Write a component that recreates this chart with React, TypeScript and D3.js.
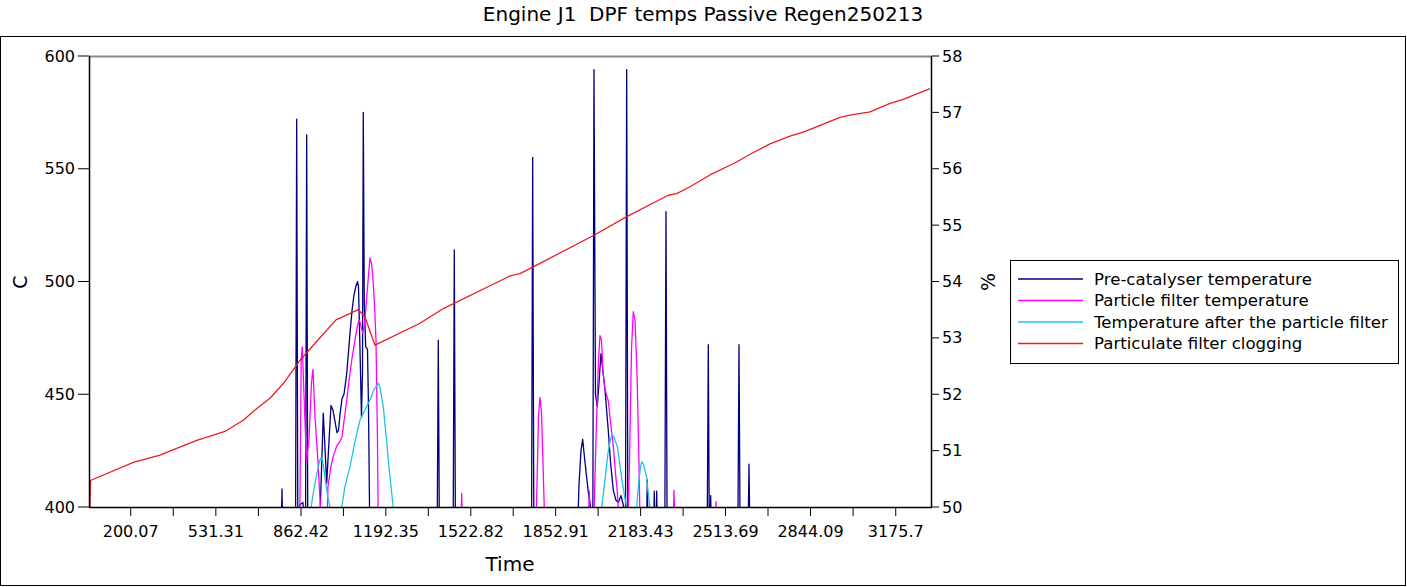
import React from "react"
import * as d3 from "d3"

// Time (s) / value pairs
const preCatalyserTemp: [number, number][] = [
  [38, 380],
  [784, 380], [788.5, 408], [793, 380],
  [841, 380], [845.7, 572], [850, 392], [858, 401], [870, 402], [880, 385], [884.6, 565], [889, 380],
  [930, 380], [936.3, 395], [949.1, 441.6], [962.4, 410.6], [979.1, 445], [986.9, 443], [994.6, 438],
  [1002.4, 433], [1008.3, 434], [1014.1, 441], [1021.9, 448], [1029.7, 450], [1040.2, 459], [1045.2, 466],
  [1053, 477], [1060.8, 487], [1068.5, 494], [1076.3, 498], [1082.2, 500], [1086, 498], [1091.9, 470],
  [1097.7, 440], [1101.6, 460], [1104.7, 575], [1108.6, 490], [1114, 471], [1121.1, 470], [1124.9, 445],
  [1130.8, 380],
  [1391.7, 380], [1396.4, 474], [1401.1, 380],
  [1454, 380], [1458.7, 514], [1463.4, 380],
  [1758.9, 380], [1763.6, 555], [1768.3, 380],
  [1935.9, 380], [1943.7, 410], [1951.4, 425], [1958, 430], [1965.1, 422], [1973.6, 413], [1980.6, 406],
  [1986.4, 402], [1997.5, 390], [2002, 594], [2007.8, 450], [2014.8, 444.5], [2021.5, 455], [2029.2, 468],
  [2037, 460], [2044.8, 452], [2057.6, 434], [2066.2, 420], [2077.1, 407.5], [2087.6, 403], [2096.6, 402],
  [2107, 405], [2116, 401], [2124.5, 390], [2129.2, 594], [2134, 380],
  [2205, 380], [2209.3, 412], [2213.5, 380],
  [2232.5, 380], [2236.5, 407], [2240.5, 380],
  [2242, 380], [2245.9, 407], [2250, 380],
  [2277.3, 380], [2282, 531], [2286.7, 380],
  [2442, 380], [2446.6, 472], [2451, 380], [2452, 385], [2455.9, 405], [2460, 380],
  [2561.3, 380], [2566, 472], [2570.7, 380],
  [2600.5, 380], [2604.9, 419], [2609.3, 380],
  [3317, 380],
]

const particleFilterTemp: [number, number][] = [
  [38, 380],
  [856.6, 380], [863.2, 465], [867.5, 471], [874.1, 450], [883.8, 420], [893.5, 430], [903.2, 455],
  [909.1, 461], [916.9, 440], [928.5, 420], [940.2, 395], [946, 380],
  [959.7, 380], [967.4, 409], [979.1, 418], [986.9, 422], [1001.3, 427], [1014.1, 429], [1021.9, 431],
  [1029.7, 438], [1040.2, 447], [1049.1, 456], [1059.6, 465], [1072.4, 474], [1081.4, 480], [1088, 483],
  [1091.9, 482], [1102.4, 477], [1109.4, 481], [1115.2, 489], [1123, 500], [1130.8, 510.5], [1136.6, 508],
  [1141.3, 503], [1148.3, 490], [1154.1, 474], [1159.9, 430], [1163.8, 380],
  [1483.5, 380], [1487.5, 406], [1491.4, 380],
  [1774.5, 380], [1780.3, 410], [1786.1, 440], [1792, 448.6], [1797.8, 442], [1803.6, 420], [1813.4, 380],
  [1976.7, 380], [1983.7, 407], [1990.3, 380],
  [1998.1, 380], [2009.8, 430], [2019.5, 465], [2025.3, 476], [2031.2, 474], [2037, 460], [2044.8, 452],
  [2050.6, 450], [2057.6, 447], [2066.2, 438], [2077.1, 427], [2085.6, 415], [2092.6, 407], [2099.2, 395],
  [2105.1, 380],
  [2130.4, 380], [2140.1, 420], [2147.9, 470], [2154.9, 486.6], [2161.5, 483], [2169.2, 460], [2177, 420],
  [2182.9, 380],
  [2307.3, 380], [2313.2, 407.5], [2319, 380],
  [2473.4, 380], [2476.5, 402.4], [2479.6, 380],
  [3317, 380],
]

const afterFilterTemp: [number, number][] = [
  [38, 380],
  [897.4, 390], [903.2, 401], [913, 408], [924.6, 415], [936.3, 421], [942.9, 422], [949.9, 418],
  [959.7, 410], [967.4, 404], [975.2, 400], [979.1, 390],
  [1016, 390], [1020.7, 400], [1033.5, 409], [1053, 418], [1072.4, 429], [1091.9, 438.6], [1111.3, 443],
  [1130.8, 447.5], [1146.3, 452], [1163.1, 455], [1169.7, 453], [1182.5, 444.5], [1193, 432], [1202, 421],
  [1212.5, 409], [1221.4, 400], [1226.1, 390],
  [2027.3, 390], [2032, 400], [2044.8, 412], [2056.5, 424], [2066.2, 430], [2073.2, 432], [2079.8, 431],
  [2085.6, 429], [2092.6, 427], [2101.2, 420], [2110.9, 412], [2120.6, 405], [2129.2, 400], [2134.2, 390],
  [2163.4, 390], [2168.1, 400], [2175.1, 410], [2180.9, 416], [2187.5, 420], [2194.5, 419], [2200.4, 416],
  [2207, 413], [2212, 407], [2219.8, 400], [2223.7, 390],
  [3317, 380],
]

const filterClogging: [number, number][] = [
  [41.7, 50.0], [43.7, 50.47], [210.2, 50.79], [314, 50.92], [379, 51.04], [456.8, 51.18], [566.8, 51.34],
  [638, 51.54], [683.5, 51.72], [741.8, 51.93], [793.6, 52.19], [858.5, 52.6], [910.2, 52.87],
  [998.5, 53.32], [1085.3, 53.5], [1111.3, 53.37], [1150.2, 52.87], [1325.2, 53.26], [1415.9, 53.52],
  [1649.2, 54.04], [1675.3, 54.1], [1714.2, 54.14], [1765.9, 54.26], [2002, 54.82], [2129.2, 55.15],
  [2291, 55.53], [2323.7, 55.56], [2375.4, 55.68], [2453.2, 55.89], [2557.1, 56.12], [2602.1, 56.24],
  [2686.5, 56.44], [2764.3, 56.58], [2816.1, 56.65], [2893.8, 56.79], [2958.8, 56.91], [2997.7, 56.95],
  [3075.5, 57.01], [3153.3, 57.16], [3205, 57.23], [3308.8, 57.42],
]

const xTicks = [200.07, 531.31, 862.42, 1192.35, 1522.82, 1852.91, 2183.43, 2513.69, 2844.09, 3175.7]
const xTickLabels = ["200.07", "531.31", "862.42", "1192.35", "1522.82", "1852.91", "2183.43", "2513.69", "2844.09", "3175.7"]
const leftTicks = [400, 450, 500, 550, 600]
const rightTicks = [50, 51, 52, 53, 54, 55, 56, 57, 58]

const seriesNames = [
  "Pre-catalyser temperature",
  "Particle filter temperature",
  "Temperature after the particle filter",
  "Particulate filter clogging",
]
const seriesColors = ["#000080", "#ff00ff", "#1ec0ea", "#ea1c24"]

const W = 1407
const H = 587
const P = { left: 89, top: 56, right: 932, bottom: 507 }
const FONT = "DejaVu Sans, sans-serif"

export default function App() {
  const x = d3.scaleLinear().domain([37.9, 3316.7]).range([P.left, P.right])
  const yL = d3.scaleLinear().domain([400, 600]).range([P.bottom, P.top])
  const yR = d3.scaleLinear().domain([50, 58]).range([P.bottom, P.top])

  const lineL = d3.line<[number, number]>().x((d) => x(d[0])).y((d) => yL(d[1]))
  const lineR = d3.line<[number, number]>().x((d) => x(d[0])).y((d) => yR(d[1]))

  const minorTicks = xTicks.slice(1).map((v, i) => (v + xTicks[i]) / 2)
  const temps = [preCatalyserTemp, particleFilterTemp, afterFilterTemp]

  return (
    <div style={{ position: "absolute", left: 0, top: 0 }}>
      <svg width={W} height={H} style={{ display: "block", background: "#fff" }} fontFamily={FONT}>
        <defs>
          <clipPath id="plot-clip">
            <rect x={P.left} y={P.top - 1} width={P.right - P.left} height={P.bottom - P.top + 1} />
          </clipPath>
        </defs>
        <rect x={0} y={0} width={W} height={H} fill="#fff" />
        <rect x={0.5} y={36.5} width={1405} height={549} fill="none" stroke="#000" />

        <text x={703} y={21} textAnchor="middle" fontSize={20} style={{ whiteSpace: "pre" }}>
          Engine J1  DPF temps Passive Regen250213
        </text>

        {/* plot frame */}
        <line x1={P.left} x2={P.right} y1={P.top + 0.5} y2={P.top + 0.5} stroke="#888" strokeWidth={2} />

        <g clipPath="url(#plot-clip)" fill="none" strokeLinejoin="round">
          {temps.map((s, i) => (
            <path key={i} d={lineL(s) ?? ""} stroke={seriesColors[i]} strokeWidth={1.3} />
          ))}
          <path d={lineR(filterClogging) ?? ""} stroke={seriesColors[3]} strokeWidth={1.3} />
        </g>

        {/* left axis */}
        <line x1={P.left + 0.5} x2={P.left + 0.5} y1={P.top} y2={P.bottom} stroke="#000" strokeWidth={1.5} />
        {leftTicks.map((v) => (
          <g key={v} transform={`translate(0,${yL(v)})`}>
            <line x1={P.left - 11} x2={P.left} stroke="#000" />
            <text x={P.left - 14} dy="0.35em" textAnchor="end" fontSize={16}>
              {v}
            </text>
          </g>
        ))}
        <text transform={`translate(27,282) rotate(-90)`} textAnchor="middle" fontSize={19}>
          C
        </text>

        {/* right axis */}
        <line x1={P.right - 0.5} x2={P.right - 0.5} y1={P.top} y2={P.bottom} stroke="#000" strokeWidth={1.5} />
        {rightTicks.map((v) => (
          <g key={v} transform={`translate(0,${yR(v)})`}>
            <line x1={P.right} x2={P.right + 7} stroke="#000" />
            <text x={P.right + 10} dy="0.35em" textAnchor="start" fontSize={16}>
              {v}
            </text>
          </g>
        ))}
        <text transform={`translate(995,282) rotate(-90)`} textAnchor="middle" fontSize={19}>
          %
        </text>

        {/* bottom axis */}
        <line x1={P.left} x2={P.right} y1={P.bottom + 0.5} y2={P.bottom + 0.5} stroke="#000" strokeWidth={1.5} />
        {minorTicks.map((v, i) => (
          <line key={i} x1={x(v)} x2={x(v)} y1={P.bottom} y2={P.bottom + 9} stroke="#000" />
        ))}
        {xTicks.map((v, i) => (
          <g key={v} transform={`translate(${x(v)},0)`}>
            <line y1={P.bottom} y2={P.bottom + 9} stroke="#000" />
            <text y={537} textAnchor="middle" fontSize={16}>
              {xTickLabels[i]}
            </text>
          </g>
        ))}
        <text x={510} y={571} textAnchor="middle" fontSize={20}>
          Time
        </text>

        {/* legend */}
        <rect x={1010.5} y={260.5} width={388} height={103} fill="#fff" stroke="#000" />
        {seriesNames.map((name, i) => (
          <g key={name} transform={`translate(0,${279 + i * 21.5})`}>
            <line x1={1018} x2={1083} stroke={seriesColors[i]} strokeWidth={1.3} />
            <text x={1094} dy="0.35em" fontSize={16.6}>
              {name}
            </text>
          </g>
        ))}
      </svg>
    </div>
  )
}
